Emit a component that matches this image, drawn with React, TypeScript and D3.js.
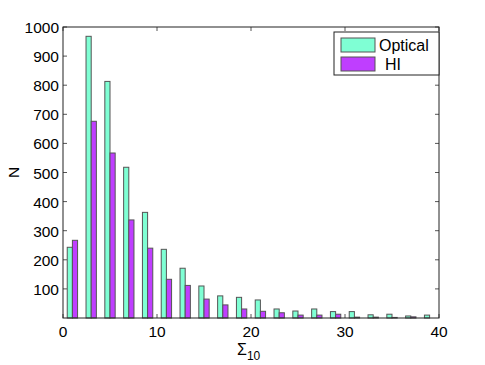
import * as d3 from "d3";

// bin centres (bin width 2)
const binCenters = [1, 3, 5, 7, 9, 11, 13, 15, 17, 19, 21, 23, 25, 27, 29, 31, 33, 35, 37, 39];
const opticalCounts = [243, 968, 813, 518, 363, 236, 171, 110, 76, 71, 62, 31, 24, 31, 22, 22, 11, 13, 7, 10];
const hiCounts = [267, 676, 567, 337, 240, 133, 112, 65, 45, 31, 23, 18, 10, 10, 13, 3, 3, 2, 4, 0];
const xTicks = [0, 10, 20, 30, 40];
const yTicks = [100, 200, 300, 400, 500, 600, 700, 800, 900, 1000];
const seriesNames = ["Optical", "HI"];
const seriesColors = ["#7fffd4", "#bf3eff"];

const width = 485;
const height = 365;
const margin = { top: 27, right: 46, bottom: 47, left: 63 };
const font = "'Liberation Sans', Arial, sans-serif";

export default function App() {
  const x = d3.scaleLinear().domain([0, 40]).range([margin.left, width - margin.right]);
  const y = d3.scaleLinear().domain([0, 1000]).range([height - margin.bottom, margin.top]);
  const binW = x(2) - x(0);
  const barW = binW * 0.275;
  const x0 = margin.left;
  const x1 = width - margin.right;
  const y0 = height - margin.bottom;
  const y1 = margin.top;
  const series = [opticalCounts, hiCounts];

  return (
    <svg width={width} height={height} style={{ position: "absolute", left: 0, top: 0 }} fontFamily={font}>
      <rect x={0} y={0} width={width} height={height} fill="#fff" />
      {series.map((vals, s) =>
        vals.map((v, i) => (
          <rect
            key={`${s}-${i}`}
            x={x(binCenters[i]) - barW + s * barW}
            y={y(v)}
            width={barW}
            height={y0 - y(v)}
            fill={seriesColors[s]}
            stroke="#555"
            strokeWidth={1}
          />
        ))
      )}
      {/* inward ticks */}
      {yTicks.map((t) => (
        <g key={`yt${t}`} stroke="#555" strokeWidth={1}>
          <line x1={x0} x2={x0 + 4} y1={y(t)} y2={y(t)} />
          <line x1={x1} x2={x1 - 4} y1={y(t)} y2={y(t)} />
        </g>
      ))}
      {xTicks.map((t) => (
        <g key={`xt${t}`} stroke="#555" strokeWidth={1}>
          <line x1={x(t)} x2={x(t)} y1={y0} y2={y0 - 4} />
          <line x1={x(t)} x2={x(t)} y1={y1} y2={y1 + 4} />
        </g>
      ))}
      <rect x={x0} y={y1} width={x1 - x0} height={y0 - y1} fill="none" stroke="#222" strokeWidth={1} />
      {yTicks.map((t) => (
        <text key={`yl${t}`} x={x0 - 4} y={y(t) + 6} fontSize={15.5} textAnchor="end">
          {t}
        </text>
      ))}
      {xTicks.map((t) => (
        <text key={`xl${t}`} x={x(t)} y={y0 + 19} fontSize={15.5} textAnchor="middle">
          {t}
        </text>
      ))}
      <text x={14} y={(y0 + y1) / 2} fontSize={15.5} textAnchor="middle" transform={`rotate(-90 14 ${(y0 + y1) / 2})`} dy={5}>
        N
      </text>
      <text x={237} y={355} fontSize={16}>
        Σ<tspan fontSize={12} dy={5}>10</tspan>
      </text>
      {/* legend */}
      <rect x={334} y={32} width={105} height={43} fill="#fff" stroke="#222" strokeWidth={1} />
      {seriesNames.map((n, i) => (
        <g key={n}>
          <rect x={341} y={38 + i * 19} width={34} height={14} fill={seriesColors[i]} stroke="#555" />
          <text x={i === 0 ? 379 : 385} y={51 + i * 19} fontSize={16}>
            {n}
          </text>
        </g>
      ))}
    </svg>
  );
}
